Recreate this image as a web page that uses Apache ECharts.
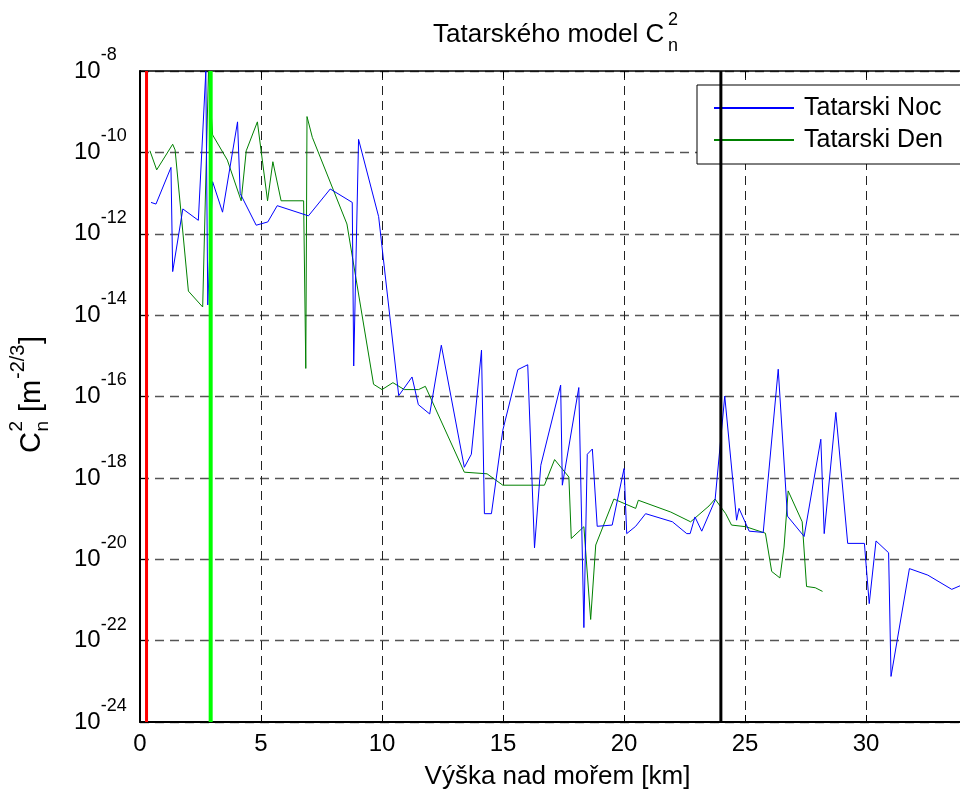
<!DOCTYPE html>
<html><head><meta charset="utf-8">
<script src="https://cdn.jsdelivr.net/npm/echarts@6/dist/echarts.min.js"></script>
<style>html,body{margin:0;padding:0;background:#fff}#c{width:960px;height:791px}</style>
</head><body><div id="c"></div>
<script>
// Height above sea level [km] and log10 of Cn^2 [m^-2/3]
const nocX = [0.455,0.66,1.28,1.35,1.77,2.41,2.72,2.80,3.00,3.41,4.03,4.14,4.80,5.28,5.67,6.96,7.86,8.77,8.83,9.03,9.86,10.69,11.24,11.50,11.97,12.45,13.40,13.69,14.11,14.23,14.52,14.99,15.61,16.02,16.30,16.56,17.38,17.45,18.13,18.34,18.48,18.69,18.89,19.51,20.00,20.11,20.48,20.89,22.00,22.59,22.73,22.93,23.21,23.76,24.16,24.65,24.75,25.17,25.75,26.37,26.75,27.44,28.13,28.27,28.75,29.24,29.93,30.13,30.41,30.93,31.03,31.79,32.55,33.54,33.93];
const nocLog10 = [-11.23,-11.27,-10.37,-12.93,-11.39,-11.67,-8.0,-13.75,-10.72,-11.47,-9.25,-11.01,-11.79,-11.71,-11.31,-11.56,-10.90,-11.23,-15.25,-9.68,-11.58,-15.98,-15.52,-16.20,-16.43,-14.74,-17.74,-17.42,-14.86,-18.88,-18.88,-16.83,-15.34,-15.22,-19.72,-17.69,-15.72,-18.18,-15.78,-21.68,-17.42,-17.29,-19.19,-19.16,-17.77,-19.37,-19.19,-18.88,-19.08,-19.37,-19.37,-18.96,-19.31,-18.55,-15.99,-19.04,-18.75,-19.31,-19.34,-15.33,-18.94,-19.44,-17.05,-19.37,-16.39,-19.61,-19.61,-21.09,-19.55,-19.84,-22.88,-20.23,-20.39,-20.74,-20.64];
const denX = [0.41,0.69,1.35,1.45,2.00,2.59,2.83,3.00,3.61,4.18,4.39,4.85,5.27,5.49,5.83,6.76,6.85,6.90,7.12,8.55,9.65,10.00,10.45,10.92,11.51,11.79,13.40,14.34,14.99,16.71,17.13,17.72,17.82,18.34,18.62,18.83,19.58,20.48,20.59,21.93,22.75,23.51,23.76,24.20,24.44,25.03,25.84,26.10,26.44,26.61,26.78,27.36,27.54,27.90,28.20];
const denLog10 = [-9.96,-10.43,-9.80,-9.94,-13.41,-13.80,-8.0,-9.57,-10.19,-11.19,-9.96,-9.25,-11.19,-10.23,-11.19,-11.19,-15.31,-9.12,-9.63,-11.76,-15.70,-15.83,-15.66,-15.83,-15.83,-15.75,-17.86,-17.90,-18.18,-18.18,-17.55,-17.98,-19.49,-19.20,-21.48,-19.65,-18.52,-18.75,-18.55,-18.84,-19.08,-18.69,-18.52,-18.88,-19.16,-19.20,-19.36,-20.30,-20.46,-19.70,-18.32,-19.08,-20.67,-20.70,-20.79];
const markerX = [0.27, 2.92, 24];
const seriesNames = ['Tatarski Noc', 'Tatarski Den'];
const yTickMin = -24, yTickMax = -8, yTickStep = 2;
const xTickMin = 0, xTickMax = 34.5, xTickStep = 5;

const FONT = '"Liberation Sans", Arial, sans-serif';
const markerColors = ['#ff0000', '#00ff00', '#000000'];
const markerWidths = [3, 4, 3];

const chart = echarts.init(document.getElementById('c'), null, {renderer: 'canvas'});

const series = [
  {name: seriesNames[0], type: 'line', data: nocX.map((x, i) => [x, nocLog10[i]]), symbol: 'none',
   lineStyle: {color: '#0000ff', width: 1}, itemStyle: {color: '#0000ff'}, z: 3},
  {name: seriesNames[1], type: 'line', data: denX.map((x, i) => [x, denLog10[i]]), symbol: 'none',
   lineStyle: {color: '#008000', width: 1}, itemStyle: {color: '#008000'}, z: 2}
];
markerX.forEach((x, i) => {
  series.push({name: 'marker' + i, type: 'line', data: [[x, yTickMin], [x, yTickMax]], symbol: 'none',
    lineStyle: {color: markerColors[i], width: markerWidths[i]}, z: 4, silent: true});
});

const ylabelPieces = [
  {t: 'C', x: 0, b: 0, fs: 29},
  {t: '2', x: 21.5, b: -18, fs: 19},
  {t: 'n', x: 21.5, b: 8, fs: 19},
  {t: ' [m', x: 33, b: 0, fs: 29},
  {t: '-2/3', x: 74, b: -16, fs: 20},
  {t: ']', x: 109, b: 0, fs: 29}
];

const option = {
  animation: false,
  backgroundColor: '#fff',
  grid: {left: 140, right: -15, top: 71, bottom: 69, containLabel: false, outerBoundsMode: 'none'},
  legend: {
    orient: 'vertical', left: 697, top: 85, data: seriesNames,
    itemWidth: 80, itemHeight: 14, itemGap: 6,
    padding: [10, 70, 11, 16],
    backgroundColor: '#fff', borderColor: '#000', borderWidth: 1, borderRadius: 0,
    itemStyle: {opacity: 0},
    textStyle: {fontFamily: FONT, fontSize: 25, color: '#000', lineHeight: 26, padding: [0, 0, 0, 5]},
    selectedMode: false
  },
  xAxis: [{
    type: 'value', min: xTickMin, max: xTickMax, interval: xTickStep, position: 'bottom',
    name: 'Výška nad mořem [km]', nameLocation: 'middle', nameGap: 42,
    nameTextStyle: {fontFamily: FONT, fontSize: 26, color: '#000'},
    axisLine: {show: true, onZero: false, lineStyle: {color: '#000', width: 2}},
    axisTick: {show: true, inside: true, length: 7, lineStyle: {color: '#000', width: 1}},
    axisLabel: {fontFamily: FONT, fontSize: 24, color: '#000', margin: 10, showMaxLabel: false},
    splitLine: {show: true, lineStyle: {color: '#222', width: 1, type: [9, 6]}}
  }, {
    type: 'value', min: xTickMin, max: xTickMax, interval: xTickStep, position: 'top',
    axisLine: {show: true, onZero: false, lineStyle: {color: '#000', width: 1.5}},
    axisTick: {show: true, inside: true, length: 7, lineStyle: {color: '#000', width: 1}},
    axisLabel: {show: false}, splitLine: {show: false}
  }],
  yAxis: {
    type: 'value', min: yTickMin, max: yTickMax, interval: yTickStep,
    axisLine: {show: true, onZero: false, lineStyle: {color: '#000', width: 2}},
    axisTick: {show: true, inside: true, length: 7, lineStyle: {color: '#000', width: 1}},
    axisLabel: {
      align: 'left', margin: 66,
      formatter: v => '{b|10}{s|' + v + '}',
      rich: {
        b: {fontFamily: FONT, fontSize: 24, lineHeight: 50, color: '#000'},
        s: {fontFamily: FONT, fontSize: 18, lineHeight: 16, verticalAlign: 'top', color: '#000'}
      }
    },
    splitLine: {show: true, lineStyle: {color: '#555', width: 1.3, type: [9, 6]}}
  },
  series: series,
  graphic: [
    {type: 'text', x: 433, y: 35, z: 100, style: {text: 'Tatarského model C', fontFamily: FONT, fontSize: 26, fill: '#000', align: 'left', verticalAlign: 'middle'}},
    {type: 'text', x: 668, y: 20, z: 100, style: {text: '2', fontFamily: FONT, fontSize: 18, fill: '#000', align: 'left', verticalAlign: 'middle'}},
    {type: 'text', x: 668, y: 46, z: 100, style: {text: 'n', fontFamily: FONT, fontSize: 18, fill: '#000', align: 'left', verticalAlign: 'middle'}},
    {type: 'group', x: 41, y: 453, rotation: Math.PI / 2, z: 100,
     children: ylabelPieces.map(p => ({type: 'text', x: p.x, y: p.b - 0.31 * p.fs,
       style: {text: p.t, fontFamily: FONT, fontSize: p.fs, fill: '#000', align: 'left', verticalAlign: 'middle'}}))}
  ]
};
chart.setOption(option);
</script></body></html>
